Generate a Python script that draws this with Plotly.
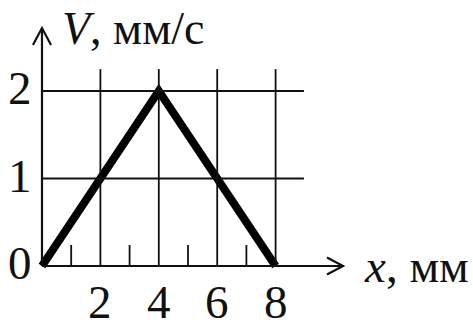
import plotly.graph_objects as go

# Velocity profile V(x)
x_mm = [0, 4, 8]
v_mms = [0, 2, 0]

# Grid and tick positions
x_grid = [2, 4, 6, 8]
x_minor = [1, 3, 5, 7]
y_grid = [1, 2]
x_tick_labels = ["2", "4", "6", "8"]
y_tick_vals = [0, 1, 2]
y_tick_labels = ["0", "1", "2"]

FONT = "Liberation Serif, Times New Roman, serif"
INK = "#111111"

# axis extents (data units)
X_END = 10.31      # tip of the x arrow
Y_END = 2.72       # tip of the V arrow
GRID_X_END = 8.97  # right end of horizontal grid lines
GRID_Y_END = 2.25  # top of vertical grid lines
MINOR_H = 0.24     # height of minor ticks

fig = go.Figure()

shapes = []
# horizontal grid lines
for yv in y_grid:
    shapes.append(dict(type="line", x0=0, x1=GRID_X_END, y0=yv, y1=yv,
                       line=dict(color=INK, width=1.8)))
# vertical grid lines
for xv in x_grid:
    shapes.append(dict(type="line", x0=xv, x1=xv, y0=0, y1=GRID_Y_END,
                       line=dict(color=INK, width=1.8)))
# minor ticks on the x axis
for xv in x_minor:
    shapes.append(dict(type="line", x0=xv, x1=xv, y0=0, y1=MINOR_H,
                       line=dict(color=INK, width=1.8)))
# axes with arrow heads
shapes.append(dict(type="line", x0=0, x1=X_END, y0=0, y1=0,
                   line=dict(color=INK, width=2.2)))
shapes.append(dict(type="line", x0=0, x1=0, y0=0, y1=Y_END,
                   line=dict(color=INK, width=2.2)))
shapes.append(dict(type="path",
                   path=f"M {X_END-0.55},0.097 L {X_END},0 L {X_END-0.55},-0.097",
                   line=dict(color=INK, width=2.2)))
shapes.append(dict(type="path",
                   path=f"M -0.31,{Y_END-0.195} L 0,{Y_END} L 0.31,{Y_END-0.195}",
                   line=dict(color=INK, width=2.2)))

fig.add_trace(go.Scatter(x=x_mm, y=v_mms, mode="lines",
                         line=dict(color="black", width=8),
                         hoverinfo="skip", showlegend=False))

annotations = []
for xv, lab in zip(x_grid, x_tick_labels):
    annotations.append(dict(x=xv, y=-0.41, text=lab, showarrow=False,
                            xanchor="center", yanchor="middle",
                            font=dict(family=FONT, size=47, color=INK)))
for yv, lab in zip(y_tick_vals, y_tick_labels):
    annotations.append(dict(x=-0.28, y=yv + 0.03, text=lab, showarrow=False,
                            xanchor="right", yanchor="middle",
                            font=dict(family=FONT, size=47, color=INK)))
annotations.append(dict(x=0.6, y=2.72, text="<i>V</i>, мм/с", showarrow=False,
                        xanchor="left", yanchor="middle",
                        font=dict(family=FONT, size=46, color=INK)))
annotations.append(dict(x=10.95, y=0.0, text="<i>x</i>, мм", showarrow=False,
                        xanchor="left", yanchor="middle",
                        font=dict(family=FONT, size=47, color=INK)))

fig.update_layout(
    width=473, height=320,
    margin=dict(l=0, r=0, t=0, b=0),
    paper_bgcolor="white", plot_bgcolor="white",
    xaxis=dict(range=[-1.438, 14.76], visible=False, fixedrange=True),
    yaxis=dict(range=[-0.617, 3.04], visible=False, fixedrange=True),
    shapes=shapes, annotations=annotations,
)

fig.write_html("out.html")
